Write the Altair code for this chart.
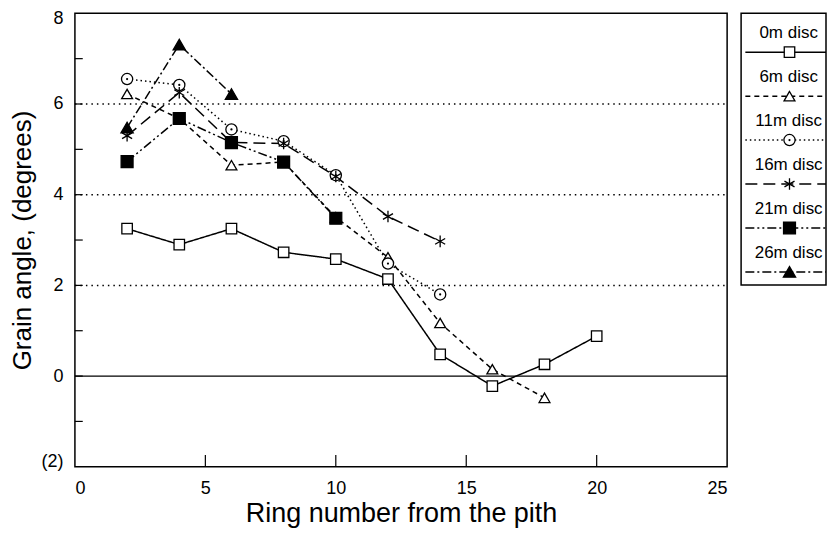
import altair as alt
import pandas as pd

# ---------------- data ----------------
series_names = ["0m disc", "6m disc", "11m disc", "16m disc", "21m disc", "26m disc"]
rings = [2, 4, 6, 8, 10, 12, 14, 16, 18, 20]
angle_0m = [3.25, 2.90, 3.25, 2.73, 2.58, 2.14, 0.48, -0.22, 0.26, 0.88]
angle_6m = [6.22, 5.68, 4.65, 4.72, 3.50, 2.62, 1.17, 0.15, -0.48]
angle_11m = [6.55, 6.42, 5.44, 5.18, 4.43, 2.48, 1.80]
angle_16m = [5.30, 6.25, 5.15, 5.13, 4.40, 3.52, 2.97]
angle_21m = [4.73, 5.68, 5.15, 4.72, 3.48]
angle_26m = [5.48, 7.31, 6.22]

x_tick_values = [0, 5, 10, 15, 20, 25]
x_inner_ticks = [5, 10, 15, 20]
y_label_values = [-2, 0, 2, 4, 6, 8]
y_inner_ticks = [-1, 0, 1, 2, 3, 4, 5, 6, 7]
dotted_grid = [2, 4, 6]
zero_line = [0]

all_series = [angle_0m, angle_6m, angle_11m, angle_16m, angle_21m, angle_26m]
rows = []
for name, vals in zip(series_names, all_series):
    for r, v in zip(rings, vals):
        rows.append({"series": name, "ring": r, "angle": v})
df = pd.DataFrame(rows)

FONT = "Liberation Sans"
dash_range = [[1, 0], [5, 4], [1.5, 3], [12, 6], [9, 3, 2, 3, 2, 3], [9, 3, 2, 3]]
asterisk = "M0,-1L0,1M-0.87,-0.5L0.87,0.5M-0.87,0.5L0.87,-0.5"
shape_range = ["square", "triangle-up", "circle", asterisk, "square", "triangle-up"]
fill_range = ["white", "white", "white", "white", "black", "black"]
size_range = [110, 150, 110, 130, 110, 150]

dash_scale = alt.Scale(domain=series_names, range=dash_range)
shape_scale = alt.Scale(domain=series_names, range=shape_range)
fill_scale = alt.Scale(domain=series_names, range=fill_range)
size_scale = alt.Scale(domain=series_names, range=size_range)

xs = alt.Scale(domain=[0, 25], nice=False, zero=False)
ys = alt.Scale(domain=[-2, 8], nice=False, zero=False)

x_axis = alt.Axis(values=x_tick_values, ticks=False, domain=False, grid=False,
                  labelFontSize=18, labelPadding=13, title="Ring number from the pith",
                  titleFontSize=27, titleFontWeight="normal", titlePadding=3)
y_axis = alt.Axis(values=y_label_values, ticks=False, domain=False, grid=False,
                  labelFontSize=18, labelPadding=12, labelFlush=True, labelFlushOffset=4,
                  labelExpr="datum.value < 0 ? '(' + abs(datum.value) + ')' : datum.label",
                  title="Grain angle, (degrees)", titleFontSize=26,
                  titleFontWeight="normal", titlePadding=5)

base_x = alt.X("ring:Q", scale=xs, axis=x_axis)
base_y = alt.Y("angle:Q", scale=ys, axis=y_axis)

grid = alt.Chart(pd.DataFrame({"v": dotted_grid})).transform_calculate(
    a="0", b="25").mark_rule(color="black", strokeWidth=1.5, strokeDash=[1.5, 4]).encode(
    x=alt.X("a:Q", scale=xs, axis=x_axis), x2="b:Q",
    y=alt.Y("v:Q", scale=ys, axis=y_axis))

zero = alt.Chart(pd.DataFrame({"v": zero_line})).transform_calculate(
    a="0", b="25").mark_rule(color="black", strokeWidth=1.3).encode(
    x=alt.X("a:Q", scale=xs, axis=x_axis), x2="b:Q",
    y=alt.Y("v:Q", scale=ys, axis=y_axis))

yticks = alt.Chart(pd.DataFrame({"v": y_inner_ticks})).transform_calculate(
    a="0", b="0.3").mark_rule(color="black", strokeWidth=1.2).encode(
    x=alt.X("a:Q", scale=xs, axis=x_axis), x2="b:Q",
    y=alt.Y("v:Q", scale=ys, axis=y_axis))

xticks = alt.Chart(pd.DataFrame({"v": x_inner_ticks})).transform_calculate(
    a="-2", b="-1.74").mark_rule(color="black", strokeWidth=1.2).encode(
    x=alt.X("v:Q", scale=xs, axis=x_axis),
    y=alt.Y("a:Q", scale=ys, axis=y_axis), y2="b:Q")

lines = alt.Chart(df).mark_line(color="black", strokeWidth=1.5).encode(
    x=base_x, y=base_y, detail="series:N",
    strokeDash=alt.StrokeDash("series:N", scale=dash_scale, legend=None))

points = alt.Chart(df).mark_point(filled=True, stroke="black", strokeWidth=1.3,
                                  opacity=1).encode(
    x=base_x, y=base_y,
    shape=alt.Shape("series:N", scale=shape_scale, legend=None),
    fill=alt.Fill("series:N", scale=fill_scale, legend=None),
    size=alt.Size("series:N", scale=size_scale, legend=None))

dots = alt.Chart(df[df["series"] == "11m disc"]).mark_point(
    filled=True, shape="circle", size=5, color="black", opacity=1).encode(
    x=base_x, y=base_y)

main = alt.layer(grid, zero, yticks, xticks, lines, points, dots).properties(
    width=653, height=454)

# ---------------- legend panel ----------------
leg_df = pd.DataFrame({"series": series_names, "idx": list(range(len(series_names)))})
lxs = alt.Scale(domain=[0, 1], nice=False, zero=False)
lys = alt.Scale(domain=[-0.4545, 5.727], nice=False, zero=False, reverse=True)

leg_base = alt.Chart(leg_df).transform_calculate(
    ly="datum.idx + 0.43", tx="0.56", mx="0.57", x0="0.05", x1="1.0")

leg_text = leg_base.mark_text(fontSize=17, font=FONT, color="black").encode(
    x=alt.X("tx:Q", scale=lxs, axis=None),
    y=alt.Y("idx:Q", scale=lys, axis=None),
    text="series:N")

leg_lines = leg_base.mark_rule(color="black", strokeWidth=1.5).encode(
    x=alt.X("x0:Q", scale=lxs, axis=None), x2="x1:Q",
    y=alt.Y("ly:Q", scale=lys, axis=None),
    strokeDash=alt.StrokeDash("series:N", scale=dash_scale, legend=None))

leg_points = leg_base.mark_point(filled=True, stroke="black", strokeWidth=1.3,
                                 opacity=1).encode(
    x=alt.X("mx:Q", scale=lxs, axis=None),
    y=alt.Y("ly:Q", scale=lys, axis=None),
    shape=alt.Shape("series:N", scale=shape_scale, legend=None),
    fill=alt.Fill("series:N", scale=fill_scale, legend=None),
    size=alt.Size("series:N", scale=size_scale, legend=None))

leg_dot = leg_base.transform_filter("datum.series == '11m disc'").mark_point(
    filled=True, shape="circle", size=5, color="black", opacity=1).encode(
    x=alt.X("mx:Q", scale=lxs, axis=None),
    y=alt.Y("ly:Q", scale=lys, axis=None))

legend_panel = alt.layer(leg_lines, leg_points, leg_dot, leg_text).properties(
    width=85, height=272)

chart = alt.hconcat(main, legend_panel, spacing=14, bounds="flush").resolve_scale(
    x="independent", y="independent").properties(
    padding={"left": 1, "top": 0, "right": 0, "bottom": 0},
    background="white"
).configure_view(
    stroke="black", strokeWidth=1.5
).configure_axis(
    labelFont=FONT, titleFont=FONT, labelColor="black", titleColor="black"
).configure_text(font=FONT)

chart.save("out.html", embed_options={"renderer": "svg", "actions": False})
